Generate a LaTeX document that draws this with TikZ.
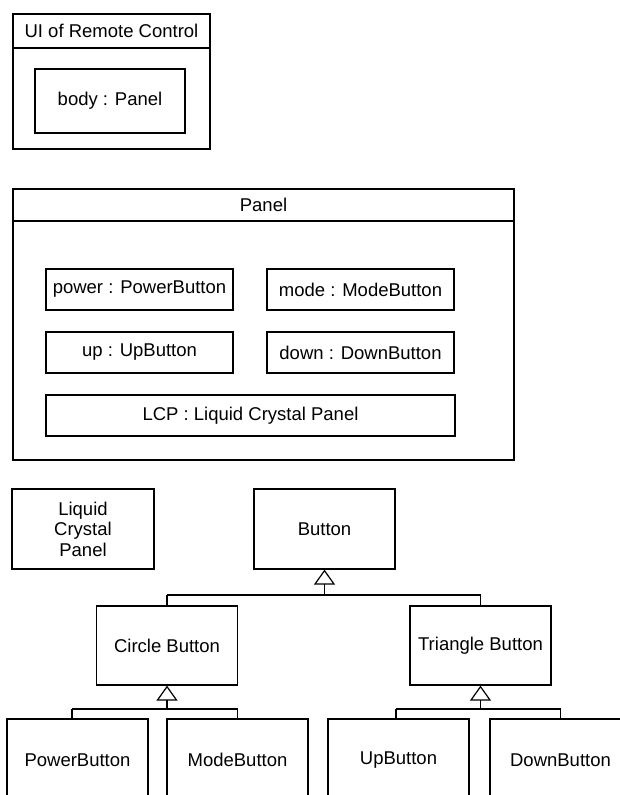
\documentclass[tikz,border=0pt]{standalone}
\usepackage{fontspec}
\setmainfont{Liberation Sans}
\usetikzlibrary{arrows.meta}
\begin{document}
\begin{tikzpicture}[x=1pt,y=-1pt,
  every node/.style={font=\fontsize{18.5}{20.5}\selectfont},
  box/.style={draw,line width=1.2pt,inner sep=0pt,rectangle},
  wire/.style={line width=1.2pt},
  gen/.style={line width=1.2pt,-{Triangle[open,length=15pt,width=21pt]}}]
\useasboundingbox (0,0) rectangle (620,795);
% UI of Remote Control
\node[box,minimum width=197pt,minimum height=135pt] (ui) at (111.5,81.5) {};
\node[box,minimum width=197pt,minimum height=34pt] (uititle) at (111.5,31) {UI of Remote Control};
\node[box,minimum width=150pt,minimum height=64pt] (body) at (110,101) {body : Panel};
% Panel
\node[box,minimum width=501pt,minimum height=271pt] (panel) at (263.5,324.5) {};
\node[box,minimum width=501pt,minimum height=32pt] (paneltitle) at (263.5,205) {Panel};
\node[box,minimum width=187pt,minimum height=41pt] (power) at (139.5,289.5) {power : PowerButton};
\node[box,minimum width=187pt,minimum height=41pt] (mode) at (360.5,289.5) {mode : ModeButton};
\node[box,minimum width=187pt,minimum height=41pt] (up) at (139.5,352.5) {up : UpButton};
\node[box,minimum width=187pt,minimum height=41pt] (down) at (360.5,352.5) {down : DownButton};
\node[box,minimum width=409pt,minimum height=41pt] (lcp) at (250.5,415.5) {LCP : Liquid Crystal Panel};
% Class hierarchy
\node[box,minimum width=142pt,minimum height=80pt,align=center] (lcpanel) at (83,529) {Liquid\\Crystal\\Panel};
\node[box,minimum width=141pt,minimum height=80pt] (button) at (324.5,529) {Button};
\node[box,minimum width=141pt,minimum height=79pt] (circle) at (167,645.5) {Circle Button};
\node[box,minimum width=141pt,minimum height=79pt] (triangle) at (480.5,645.5) {Triangle Button};
\node[box,minimum width=141pt,minimum height=82pt] (pb) at (77.5,760) {PowerButton};
\node[box,minimum width=141pt,minimum height=82pt] (mb) at (237.5,760) {ModeButton};
\node[box,minimum width=141pt,minimum height=82pt] (ub) at (398.5,760) {UpButton};
\node[box,minimum width=141pt,minimum height=82pt] (db) at (560.5,760) {DownButton};
% generalization: Button
\coordinate (b1) at (324.5,595);
\coordinate (b1l) at (167,595);
\coordinate (b1r) at (480.5,595);
\draw[wire] (b1l) -- (b1r);
\draw[gen] (b1) -- (button.south);
\draw[wire] (b1l) -- (circle.north);
\draw[wire] (b1r) -- (triangle.north);
% generalization: Circle Button
\coordinate (b2) at (167,709);
\coordinate (b2l) at (72,709);
\coordinate (b2r) at (237.5,709);
\draw[wire] (b2l) -- (b2r);
\draw[gen] (b2) -- (circle.south);
\draw[wire] (b2l) -- (b2l |- pb.north);
\draw[wire] (b2r) -- (mb.north);
% generalization: Triangle Button
\coordinate (b3) at (480.5,709);
\coordinate (b3l) at (396,709);
\coordinate (b3r) at (560.5,709);
\draw[wire] (b3l) -- (b3r);
\draw[gen] (b3) -- (triangle.south);
\draw[wire] (b3l) -- (b3l |- ub.north);
\draw[wire] (b3r) -- (db.north);
\end{tikzpicture}
\end{document}
